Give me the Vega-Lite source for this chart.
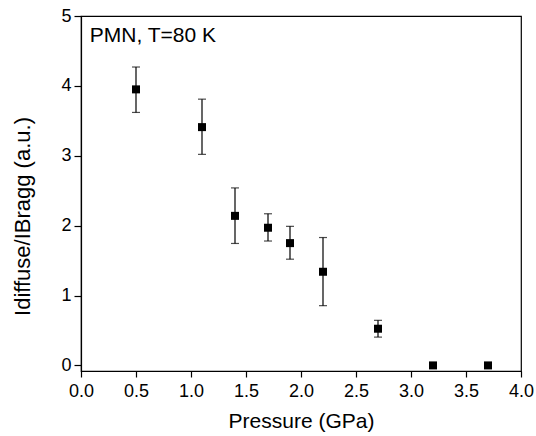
{
  "$schema": "https://vega.github.io/schema/vega-lite/v6.json",
  "width": 440,
  "height": 355,
  "autosize": "none",
  "padding": {"left": 81, "top": 16, "right": 15, "bottom": 65},
  "background": "white",
  "config": {
    "font": "Liberation Sans",
    "view": {"stroke": "black", "strokeWidth": 1.2},
    "axis": {"grid": false, "domainColor": "black", "labelColor": "black", "titleColor": "black", "labelFont": "Liberation Sans", "titleFont": "Liberation Sans", "labelFontSize": 18, "titleFontSize": 21, "titleFontWeight": "normal", "domainWidth": 1.2}
  },
  "data": {
    "values": [
      {"p": 0.5, "r": 3.95, "lo": 3.62, "hi": 4.27},
      {"p": 1.1, "r": 3.41, "lo": 3.02, "hi": 3.81},
      {"p": 1.4, "r": 2.14, "lo": 1.745, "hi": 2.54},
      {"p": 1.7, "r": 1.97, "lo": 1.78, "hi": 2.17},
      {"p": 1.9, "r": 1.75, "lo": 1.52, "hi": 1.99},
      {"p": 2.2, "r": 1.34, "lo": 0.855, "hi": 1.83},
      {"p": 2.7, "r": 0.525, "lo": 0.405, "hi": 0.645},
      {"p": 3.2, "r": 0.0},
      {"p": 3.7, "r": 0.0}
    ]
  },
  "layer": [
    {
      "mark": {"type": "rule", "color": "black", "strokeWidth": 1.2},
      "encoding": {
        "x": {"field": "p", "type": "quantitative", "scale": {"domain": [0, 4], "nice": false, "zero": false},
          "axis": {"title": "Pressure (GPa)", "values": [0,0.25,0.5,0.75,1,1.25,1.5,1.75,2,2.25,2.5,2.75,3,3.25,3.5,3.75,4],
            "labelExpr": "datum.value * 4 % 2 === 0 ? format(datum.value, '.1f') : ''",
            "ticks": true, "tickSize": 6, "tickWidth": 1.2, "tickColor": "black",
            "encode": {"ticks": {"update": {"y2": {"signal": "datum.value * 4 % 2 === 0 ? 6 : 3.5"}}}},
            "labelPadding": 5, "titlePadding": 10, "labelFlush": false}},
        "y": {"field": "lo", "type": "quantitative", "scale": {"domain": [-0.08, 5], "nice": false, "zero": false},
          "axis": {"title": "Idiffuse/IBragg (a.u.)", "values": [0,0.5,1,1.5,2,2.5,3,3.5,4,4.5,5],
            "labelExpr": "datum.value % 1 === 0 ? format(datum.value, 'd') : ''",
            "ticks": true, "tickSize": 7, "tickWidth": 1.2, "tickColor": "black",
            "encode": {"ticks": {"update": {"x2": {"signal": "datum.value % 1 === 0 ? -7 : -4"}}}},
            "titleFontSize": 22, "titleX": -52, "titleY": 200, "titleBaseline": "alphabetic",
            "labelPadding": 3, "labelFlush": false}},
        "y2": {"field": "hi"}
      }
    },
    {
      "mark": {"type": "tick", "color": "black", "thickness": 1.2, "size": 8, "orient": "horizontal"},
      "encoding": {
        "x": {"field": "p", "type": "quantitative"},
        "y": {"field": "lo", "type": "quantitative"}
      }
    },
    {
      "mark": {"type": "tick", "color": "black", "thickness": 1.2, "size": 8, "orient": "horizontal"},
      "encoding": {
        "x": {"field": "p", "type": "quantitative"},
        "y": {"field": "hi", "type": "quantitative"}
      }
    },
    {
      "mark": {"type": "square", "color": "black", "opacity": 1, "size": 64, "filled": true},
      "encoding": {
        "x": {"field": "p", "type": "quantitative"},
        "y": {"field": "r", "type": "quantitative"}
      }
    },
    {
      "data": {"values": [{"p": 0.08, "r": 4.72, "t": "PMN, T=80 K"}]},
      "mark": {"type": "text", "align": "left", "baseline": "middle", "fontSize": 21, "font": "Liberation Sans", "color": "black"},
      "encoding": {
        "x": {"field": "p", "type": "quantitative"},
        "y": {"field": "r", "type": "quantitative"},
        "text": {"field": "t"}
      }
    }
  ]
}
